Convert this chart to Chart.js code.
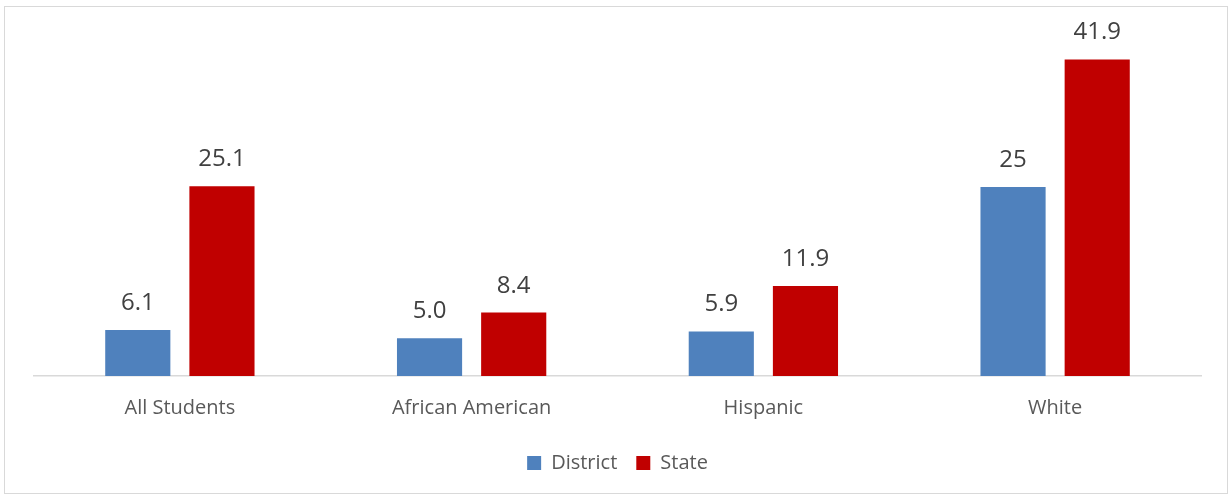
<!DOCTYPE html>
<html><head><meta charset="utf-8">
<script src="https://cdn.jsdelivr.net/npm/chart.js@4/dist/chart.umd.min.js"></script>
<style>
html,body{margin:0;padding:0;background:#fff;}
#wrap{position:relative;width:1230px;height:497px;}
#frame{position:absolute;left:4px;top:6px;width:1224px;height:488px;border:1px solid #d9d9d9;box-sizing:border-box;}
canvas{position:absolute;left:0;top:0;}
</style></head>
<body><div id="wrap"><div id="frame"></div><canvas id="c" width="1230" height="497"></canvas></div>
<script>
const categories = ["All Students", "African American", "Hispanic", "White"];
const districtValues = [6.1, 5.0, 5.9, 25];
const stateValues = [25.1, 8.4, 11.9, 41.9];
const districtLabels = ["6.1", "5.0", "5.9", "25"];
const stateLabels = ["25.1", "8.4", "11.9", "41.9"];

const FONT = "'Open Sans', sans-serif";

const valueLabels = {
  id: 'valueLabels',
  afterDatasetsDraw(chart) {
    const ctx = chart.ctx;
    const texts = [districtLabels, stateLabels];
    ctx.save();
    ctx.font = "24px " + FONT;
    ctx.fillStyle = "#404040";
    ctx.textAlign = "center";
    ctx.textBaseline = "alphabetic";
    chart.data.datasets.forEach((ds, i) => {
      chart.getDatasetMeta(i).data.forEach((bar, j) => {
        ctx.fillText(texts[i][j], bar.x, bar.y - 20);
      });
    });
    ctx.restore();
  }
};

new Chart(document.getElementById('c'), {
  type: 'bar',
  data: {
    labels: categories,
    datasets: [
      { label: "District", data: districtValues, backgroundColor: "#4f81bd",
        categoryPercentage: 0.577, barPercentage: 0.774 },
      { label: "State", data: stateValues, backgroundColor: "#c00000",
        categoryPercentage: 0.577, barPercentage: 0.774 }
    ]
  },
  options: {
    responsive: false,
    animation: false,
    layout: { padding: { left: 34, right: 29, top: 36, bottom: 14 } },
    scales: {
      y: { display: false, min: 0, max: 45 },
      x: {
        grid: { display: false, drawTicks: false },
        border: { display: true, color: "#d9d9d9", width: 1.5 },
        ticks: { color: "#595959", font: { family: FONT, size: 20 }, padding: 20 },
        afterFit: (s) => { s.height -= 6; }
      }
    },
    plugins: {
      legend: {
        position: 'bottom',
        labels: { color: "#595959", font: { family: FONT, size: 20 }, boxWidth: 14, boxHeight: 14, padding: 19 }
      },
      tooltip: { enabled: false }
    }
  },
  plugins: [valueLabels]
});
</script></body></html>
